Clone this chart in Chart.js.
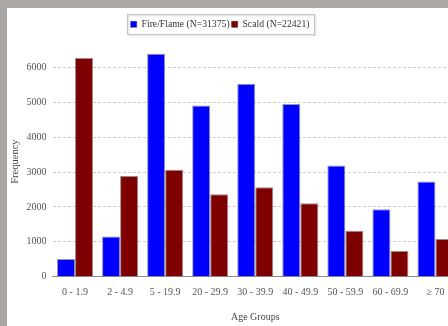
<!DOCTYPE html>
<html>
<head>
<meta charset="utf-8">
<script src="https://cdn.jsdelivr.net/npm/chart.js@4/dist/chart.umd.min.js"></script>
<style>
  html, body { margin: 0; padding: 0; background: #aaa7a4; overflow: hidden; width: 448px; height: 326px; }
  #frame { position: absolute; left: 7px; top: 8px; width: 451px; height: 318px; background: #fff; }
</style>
</head>
<body>
<div id="frame"><canvas id="chart"></canvas></div>
<script>
// Age groups on the x axis
const ageGroups = ['0 - 1.9', '2 - 4.9', '5 - 19.9', '20 - 29.9', '30 - 39.9', '40 - 49.9', '50 - 59.9', '60 - 69.9', '\u2265 70'];
// Burn counts per age group
const fireFlame = [510, 1150, 6395, 4910, 5533, 4950, 3187, 1935, 2727];
const scald = [6270, 2890, 3063, 2366, 2567, 2107, 1321, 738, 1082];
// Series names
const seriesNames = ['Fire/Flame (N=31375)', 'Scald (N=22421)'];
// Frequency axis ticks and upper bound
const yTicks = [0, 1000, 2000, 3000, 4000, 5000, 6000];
const yMax = 6600;

const serif = '"Liberation Serif", "Times New Roman", serif';
const LEGEND_PAD = 2;

// Place the legend and frame it with a light box
const legendFrame = {
  id: 'legendFrame',
  afterLayout(chart) {
    const lg = chart.legend;
    if (!lg) return;
    const w = lg.width, h = lg.height;
    lg.left = 123.7 - LEGEND_PAD;
    lg.right = lg.left + w;
    lg.top = 11.5 - LEGEND_PAD;
    lg.bottom = lg.top + h;
  },
  afterDraw(chart) {
    const lg = chart.legend;
    if (!lg || !lg.legendHitBoxes || !lg.legendHitBoxes.length) return;
    const boxes = lg.legendHitBoxes;
    const first = boxes[0], last = boxes[boxes.length - 1];
    const x0 = first.left - 4, x1 = last.left + last.width + 4;
    const cy = first.top + first.height / 2;
    const ctx = chart.ctx;
    ctx.save();
    ctx.shadowColor = 'rgba(0,0,0,0.18)';
    ctx.shadowBlur = 2;
    ctx.shadowOffsetX = 1;
    ctx.shadowOffsetY = 1;
    ctx.strokeStyle = '#c4c4c4';
    ctx.lineWidth = 1;
    ctx.strokeRect(Math.round(x0) + 0.5, Math.round(cy - 10) + 0.5, Math.round(x1 - x0), 20);
    ctx.restore();
  }
};

new Chart(document.getElementById('chart'), {
  type: 'bar',
  data: {
    labels: ageGroups,
    datasets: [
      { label: seriesNames[0], data: fireFlame, backgroundColor: '#0000ff', borderColor: 'rgba(60,60,110,0.55)', borderWidth: 1 },
      { label: seriesNames[1], data: scald, backgroundColor: '#7f0000', borderColor: 'rgba(70,40,40,0.55)', borderWidth: 1 }
    ]
  },
  options: {
    responsive: true,
    maintainAspectRatio: false,
    animation: false,
    layout: { padding: { top: 16.8, left: 0, right: 0, bottom: 0 } },
    datasets: { bar: { categoryPercentage: 0.8, barPercentage: 1.0 } },
    plugins: {
      tooltip: { enabled: false },
      legend: {
        position: 'top',
        align: 'start',
        labels: {
          boxWidth: 6,
          boxHeight: 6,
          padding: LEGEND_PAD,
          color: '#333',
          font: { family: serif, size: 9.7 }
        }
      }
    },
    scales: {
      x: {
        grid: { display: false, drawTicks: false },
        border: { display: true, color: '#8c8c8c', width: 1 },
        ticks: { autoSkip: false, maxRotation: 0, padding: 10, color: '#555', font: { family: serif, size: 10 } },
        title: { display: true, text: 'Age Groups', color: '#444', font: { family: serif, size: 10 }, padding: { top: 0, bottom: 3 } },
        afterFit(axis) { axis.height = 49.3; }
      },
      y: {
        min: 0,
        max: yMax,
        grid: { drawTicks: false, lineWidth: 1, color: '#cdcdcd' },
        border: { display: false, dash: [3, 2] },
        ticks: {
          autoSkip: false,
          padding: 6,
          color: '#555',
          font: { family: serif, size: 10 },
          callback: v => String(v)
        },
        afterBuildTicks(axis) { axis.ticks = yTicks.map(v => ({ value: v })); },
        title: { display: true, text: 'Frequency', color: '#444', font: { family: serif, size: 10.5 }, padding: { top: 1.7, bottom: 0 } },
        afterFit(axis) { axis.width = 45.5; }
      }
    }
  },
  plugins: [legendFrame]
});
</script>
</body>
</html>
